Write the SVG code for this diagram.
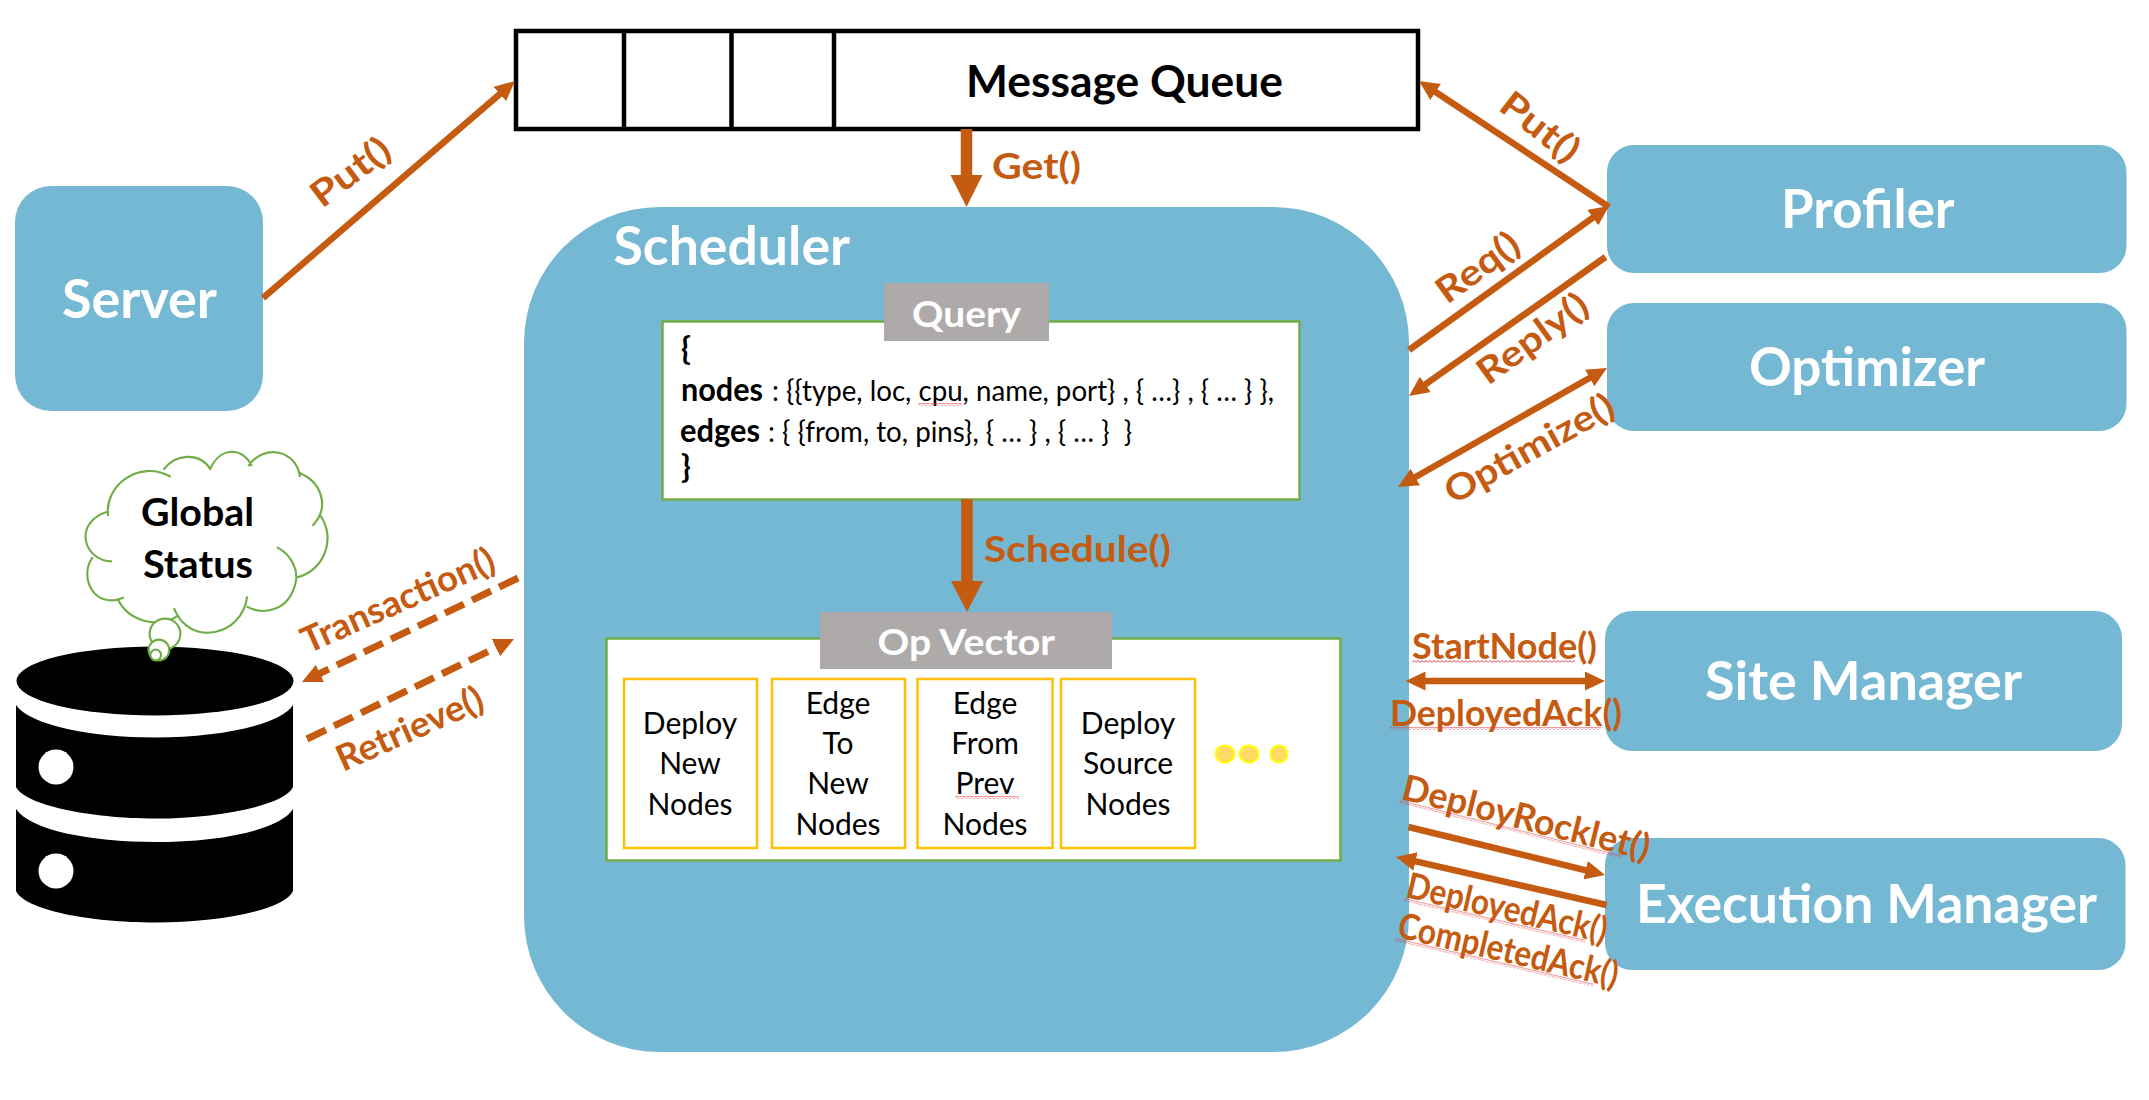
<svg xmlns="http://www.w3.org/2000/svg" width="2149" height="1100" viewBox="0 0 2149 1100">
<style>
text{font-family:Lato,"Open Sans","Noto Sans",sans-serif;}
.blue{fill:#75B8D4;}
.title{font-weight:700;font-size:54px;fill:#fff;}
.head{font-weight:700;font-size:37px;fill:#fff;}
.lab{font-weight:700;font-size:36px;fill:#C55A11;}
.blk{font-weight:700;font-size:43px;fill:#000;}
.glob{font-weight:700;font-size:39px;fill:#000;}
.code{font-size:28px;fill:#000;}
.codeb{font-size:32px;font-weight:700;fill:#000;}
.op{font-size:30px;fill:#000;text-anchor:middle;}
.frame{fill:#fff;stroke:#70AD47;stroke-width:2.5;}
.opbox{fill:#fff;stroke:#FFC000;stroke-width:2.5;}
.tag{fill:#AEAAAA;}
.dot{fill:#FFD966;stroke:#FFFF00;stroke-width:2;}
.cell{fill:none;stroke:#000;stroke-width:4.5;}
.arr{fill:none;stroke:#C55A11;stroke-width:6.5;}
.arrb{fill:none;stroke:#C55A11;stroke-width:11.5;}
.dash{stroke-dasharray:21 9;stroke-width:7;}
.cloud{fill:none;stroke:#70AD47;stroke-width:6;}
.bub{fill:#fff;stroke:#70AD47;stroke-width:6;}
.sq{fill:url(#squig);}
</style>
<defs>
<marker id="h" markerUnits="userSpaceOnUse" markerWidth="20" markerHeight="19" refX="10" refY="9.5" orient="auto-start-reverse" viewBox="0 0 20 19"><path d="M0,0L20,9.5L0,19Z" fill="#C55A11"/></marker>
<pattern id="squig" patternUnits="userSpaceOnUse" width="4" height="3"><path d="M0,2.5L2,0.5L4,2.5" fill="none" stroke="#E8343C" stroke-width="1"/></pattern>
</defs>

<g id="scheduler">
<rect class="blue" x="524" y="207" width="885" height="845" rx="136" ry="136"/>
<text class="title" x="613.5" y="265" textLength="236.5" lengthAdjust="spacingAndGlyphs">Scheduler</text>
</g>
<g id="server">
<rect class="blue" x="15" y="186" width="248" height="225" rx="36" ry="36"/>
<text class="title" x="62" y="318" textLength="155" lengthAdjust="spacingAndGlyphs">Server</text>
</g>
<g id="message-queue">
<rect class="cell" x="516" y="31" width="902" height="98" fill="#fff"/>
<path class="cell" d="M624,31V129M731.5,31V129M834,31V129"/>
<text class="blk" x="966" y="97" textLength="317" lengthAdjust="spacingAndGlyphs">Message Queue</text>
</g>
<g id="profiler">
<rect class="blue" x="1607" y="145" width="519.5" height="128" rx="27" ry="27"/>
<text class="title" x="1781" y="228" textLength="173.5" lengthAdjust="spacingAndGlyphs">Profiler</text>
</g>
<g id="optimizer">
<rect class="blue" x="1607" y="303" width="519.5" height="128" rx="27" ry="27"/>
<text class="title" x="1749" y="386" textLength="236" lengthAdjust="spacingAndGlyphs">Optimizer</text>
</g>
<g id="site-manager">
<rect class="blue" x="1605" y="611" width="517" height="140" rx="27" ry="27"/>
<text class="title" x="1705" y="700" textLength="317" lengthAdjust="spacingAndGlyphs">Site Manager</text>
</g>
<g id="execution-manager">
<rect class="blue" x="1605" y="838" width="520.5" height="132" rx="27" ry="27"/>
<text class="title" x="1636" y="923" textLength="461" lengthAdjust="spacingAndGlyphs">Execution Manager</text>
</g>

<g id="query">
<rect class="frame" x="662.5" y="321.5" width="637" height="178"/>
<rect class="tag" x="884" y="283" width="165" height="58"/>
<text class="head" x="912" y="327" textLength="109" lengthAdjust="spacingAndGlyphs">Query</text>
<text class="codeb" x="681" y="360">{</text>
<text class="codeb" x="681" y="401" textLength="82" lengthAdjust="spacingAndGlyphs">nodes</text>
<text class="code" x="772" y="401" textLength="502" lengthAdjust="spacingAndGlyphs">: {{type, loc, cpu, name, port} , { …} , { … } },</text>
<rect class="sq" x="918" y="403" width="44" height="3"/>
<text class="codeb" x="680" y="442" textLength="80" lengthAdjust="spacingAndGlyphs">edges</text>
<text class="code" x="768" y="442" textLength="364" lengthAdjust="spacingAndGlyphs" xml:space="preserve">: { {from, to, pins}, { … } , { … }  }</text>
<text class="codeb" x="681" y="478">}</text>
</g>

<g id="op-vector">
<rect class="frame" x="606.5" y="638.5" width="734" height="222"/>
<rect class="tag" x="820" y="612" width="292" height="57"/>
<text class="head" x="877.5" y="655" textLength="177.5" lengthAdjust="spacingAndGlyphs">Op Vector</text>
<g id="op-deploy-new">
<rect class="opbox" x="624" y="679" width="133" height="169"/>
<text class="op" x="690" y="734">Deploy</text><text class="op" x="690" y="774">New</text><text class="op" x="690" y="815">Nodes</text>
</g>
<g id="op-edge-to">
<rect class="opbox" x="772" y="679" width="133" height="169"/>
<text class="op" x="838" y="714">Edge</text><text class="op" x="838" y="754">To</text><text class="op" x="838" y="794">New</text><text class="op" x="838" y="835">Nodes</text>
</g>
<g id="op-edge-from">
<rect class="opbox" x="917.5" y="679" width="135" height="169"/>
<text class="op" x="985" y="714">Edge</text><text class="op" x="985" y="754">From</text><text class="op" x="985" y="794">Prev</text><text class="op" x="985" y="835">Nodes</text>
<rect class="sq" x="955" y="796" width="64" height="3"/>
</g>
<g id="op-deploy-source">
<rect class="opbox" x="1061" y="679" width="134" height="169"/>
<text class="op" x="1128" y="734">Deploy</text><text class="op" x="1128" y="774">Source</text><text class="op" x="1128" y="815">Nodes</text>
</g>
<ellipse class="dot" cx="1225" cy="754" rx="9.5" ry="8.5"/>
<ellipse class="dot" cx="1249" cy="754" rx="9.5" ry="8.5"/>
<ellipse class="dot" cx="1279" cy="754" rx="8.5" ry="8.5"/>
</g>

<g id="database">
<ellipse cx="155" cy="681" rx="138.5" ry="34.5" fill="#000"/>
<path fill="#000" d="M16,705C30,725 90,737.5 155,737.5C220,737.5 280,725 293,705V787C285,805 220,818.5 155,818.5C90,818.5 25,805 16,787Z"/>
<path fill="#000" d="M16,809C30,830 90,842 155,842C220,842 280,830 293,809V891C285,910 220,922.5 155,922.5C90,922.5 25,910 16,891Z"/>
<circle cx="56" cy="767" r="17.5" fill="#fff"/>
<circle cx="56" cy="871" r="17.5" fill="#fff"/>
</g>

<g id="global-status">
<g transform="translate(0,400) scale(0.35714)">
<path class="cloud" d="M303,325C290,240 390,165 478,215M458,195C490,150 560,145 590,195M588,195C615,130 680,130 705,185M695,185C740,120 830,140 840,215M840,205C900,230 925,300 875,352M895,320C945,390 905,480 830,497M775,412C820,435 835,480 828,510C810,590 740,605 690,578M692,550C680,660 530,695 487,583M497,605C440,640 360,620 330,558M347,553C260,590 220,490 260,440M314,452C230,450 205,340 303,312"/>
<circle class="bub" cx="462" cy="655" r="43"/>
<circle class="bub" cx="445" cy="700" r="29"/>
<circle class="bub" cx="436" cy="714" r="15"/>
</g>
<text class="glob" x="141" y="526" textLength="113" lengthAdjust="spacingAndGlyphs">Global</text>
<text class="glob" x="143" y="578" textLength="110" lengthAdjust="spacingAndGlyphs">Status</text>
</g>

<g id="connectors">
<line class="arr" x1="263" y1="298" x2="507.4" y2="87.5" marker-end="url(#h)"/>
<line class="arr" x1="1609" y1="207" x2="1427.3" y2="86.5" marker-end="url(#h)"/>
<line class="arr" x1="1409" y1="350" x2="1600.9" y2="211.8" marker-end="url(#h)"/>
<line class="arr" x1="1605.5" y1="257" x2="1417.2" y2="390.2" marker-end="url(#h)"/>
<line class="arr" x1="1598.3" y1="373" x2="1406.7" y2="482" marker-start="url(#h)" marker-end="url(#h)"/>
<line class="arr dash" x1="518" y1="578" x2="311" y2="677.7" marker-end="url(#h)"/>
<line class="arr dash" x1="307" y1="739" x2="505" y2="643.3" marker-end="url(#h)"/>
<line class="arr" x1="1415.5" y1="681" x2="1595" y2="681" marker-start="url(#h)" marker-end="url(#h)"/>
<line class="arr" x1="1408.5" y1="827" x2="1595.3" y2="872.6" marker-end="url(#h)"/>
<line class="arr" x1="1606.5" y1="905" x2="1405.8" y2="859.2" marker-end="url(#h)"/>
<line class="arrb" x1="966.5" y1="129" x2="966.5" y2="175"/>
<path d="M950.5,175H982.5L966.5,207Z" fill="#C55A11"/>
<line class="arrb" x1="967" y1="499" x2="967" y2="581"/>
<path d="M951,581H983L967,612Z" fill="#C55A11"/>
</g>

<g id="labels">
<text class="lab" x="992" y="179" textLength="89" lengthAdjust="spacingAndGlyphs">Get()</text>
<text class="lab" x="984" y="562" textLength="187" lengthAdjust="spacingAndGlyphs">Schedule()</text>
<text class="lab" transform="translate(322,209) rotate(-37)" textLength="90" lengthAdjust="spacingAndGlyphs">Put()</text>
<text class="lab" transform="translate(1497,109) rotate(38)" textLength="90" lengthAdjust="spacingAndGlyphs">Put()</text>
<text class="lab" transform="translate(1447,305) rotate(-36)" textLength="94" lengthAdjust="spacingAndGlyphs">Req()</text>
<text class="lab" transform="translate(1488,386) rotate(-36)" textLength="128" lengthAdjust="spacingAndGlyphs">Reply()</text>
<text class="lab" transform="translate(1453,505) rotate(-29)" textLength="188" lengthAdjust="spacingAndGlyphs">Optimize()</text>
<text class="lab" transform="translate(308,654) rotate(-24)" textLength="208" lengthAdjust="spacingAndGlyphs">Transaction()</text>
<text class="lab" transform="translate(343,772) rotate(-24)" textLength="157" lengthAdjust="spacingAndGlyphs">Retrieve()</text>
<text class="lab" x="1412" y="659" textLength="185" lengthAdjust="spacingAndGlyphs">StartNode()</text>
<rect class="sq" x="1412" y="660" width="163" height="3"/>
<text class="lab" x="1390" y="726" textLength="232" lengthAdjust="spacingAndGlyphs">DeployedAck()</text>
<rect class="sq" x="1390" y="727" width="211" height="3"/>
<g transform="translate(1400,799) rotate(14)">
<text class="lab" textLength="254" lengthAdjust="spacingAndGlyphs">DeployRocklet()</text>
<rect class="sq" y="1" width="229" height="3"/>
</g>
<g transform="translate(1404.5,897) rotate(13)">
<text class="lab" textLength="205" lengthAdjust="spacingAndGlyphs">DeployedAck()</text>
<rect class="sq" y="1" width="186" height="3"/>
</g>
<g transform="translate(1396,937) rotate(13)">
<text class="lab" textLength="225" lengthAdjust="spacingAndGlyphs">CompletedAck()</text>
<rect class="sq" y="1" width="203" height="3"/>
</g>
</g>
</svg>
